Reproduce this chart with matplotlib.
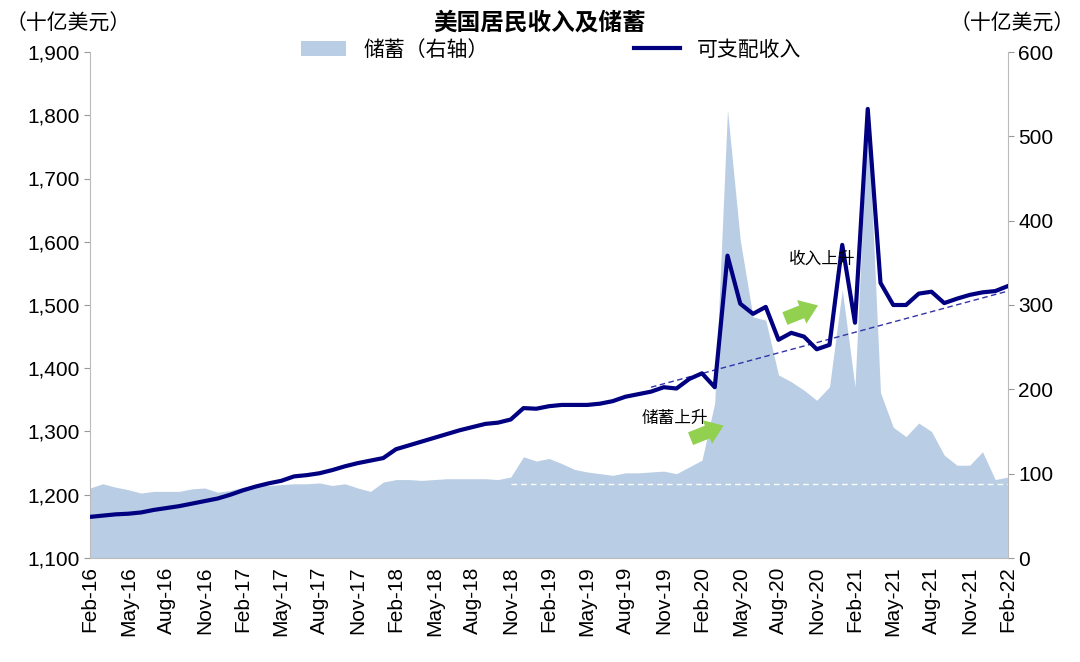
import numpy as np
import matplotlib.pyplot as plt

plt.rcParams['font.family'] = ['Liberation Sans', 'Noto Sans CJK SC', 'DejaVu Sans']

# monthly, Feb-16 .. Feb-22
months = ['Jan', 'Feb', 'Mar', 'Apr', 'May', 'Jun', 'Jul', 'Aug', 'Sep', 'Oct', 'Nov', 'Dec']
labels = [f'{months[(1 + i) % 12]}-{16 + (1 + i) // 12}' for i in range(73)]

income = [1165, 1167, 1169, 1170, 1172, 1176, 1179, 1182, 1186, 1190, 1194,
          1200, 1207, 1213, 1218, 1222, 1229, 1231, 1234, 1239, 1245, 1250, 1254,
          1258, 1272, 1278, 1284, 1290, 1296, 1302, 1307, 1312, 1314, 1319, 1337,
          1336, 1340, 1342, 1342, 1342, 1344, 1348, 1355, 1359, 1363, 1370, 1368,
          1383, 1392, 1370, 1578, 1502, 1486, 1497, 1445, 1456, 1450, 1430, 1437,
          1595, 1472, 1810, 1535, 1500, 1500, 1518, 1521, 1503, 1510, 1516, 1520,
          1522, 1530]

savings = [83, 88, 84, 81, 77, 79, 79, 79, 82, 83, 78,
           80, 84, 86, 86, 87, 88, 88, 89, 86, 88, 83, 79,
           90, 93, 93, 92, 93, 94, 94, 94, 94, 93, 96, 120,
           115, 118, 112, 105, 102, 100, 98, 101, 101, 102, 103, 100,
           108, 116, 184, 531, 377, 286, 282, 217, 209, 199, 187, 203,
           318, 203, 531, 196, 155, 144, 160, 150, 122, 110, 110, 126,
           93, 96]

savings_ref = 88          # white dashed reference level
trend_x = [44, 72]        # index range for income trend line
trend_y = [1370, 1522]

x = np.arange(len(labels))

fig = plt.figure(figsize=(10.8, 6.62), dpi=100)
ax = fig.add_axes([90 / 1080, 1 - 558 / 662, 918 / 1080, 506 / 662])
ax2 = ax.twinx()

# savings area on the right axis (draw behind the income line)
ax.set_zorder(2)
ax.patch.set_visible(False)
ax2.fill_between(x, savings, 0, color='#b9cde4', lw=0, label='储蓄（右轴）')
ax2.plot([33, 72], [savings_ref, savings_ref], color='white', ls=(0, (4, 3)), lw=1)
ax2.set_ylim(0, 600)
ax2.set_yticks(range(0, 601, 100))

ax.plot(x, income, color='#000080', lw=3, label='可支配收入', zorder=3)
ax.plot(trend_x, trend_y, color='#3333aa', ls=(0, (4, 2.5)), lw=1, zorder=2)
ax.set_ylim(1100, 1900)
ax.set_yticks(range(1100, 1901, 100))
ax.set_yticklabels([f'{v:,}' for v in range(1100, 1901, 100)])
ax.set_xlim(0, 72)
ax.set_xticks(x[::3])
ax.set_xticklabels(labels[::3], rotation=90)

for a in (ax, ax2):
    a.tick_params(labelsize=15, length=4, color='#999999')
    for s in a.spines.values():
        s.set_visible(False)
ax.spines['left'].set_visible(True)
ax.spines['left'].set_color('#bbbbbb')
ax.spines['bottom'].set_visible(True)
ax.spines['bottom'].set_color('#bbbbbb')
ax2.spines['right'].set_visible(True)
ax2.spines['right'].set_color('#bbbbbb')
ax.tick_params(axis='x', length=0, pad=6)

# annotations
ax.text(54.8, 1565, '收入上升', fontsize=12, style='italic')
ax.text(43.3, 1313, '储蓄上升', fontsize=12, style='italic')
for (x0, y0, dx, dy) in [(54.3, 1477, 3.0, 24), (46.9, 1287, 3.0, 24)]:
    ax.annotate('', xy=(x0 + dx, y0 + dy), xytext=(x0, y0),
                arrowprops=dict(arrowstyle='simple,head_width=1.3,head_length=0.9,tail_width=0.7',
                                mutation_scale=14, color='#92d050', lw=0), zorder=5)

fig.text(0.5, 0.965, '美国居民收入及储蓄', ha='center', va='center', fontsize=17, fontweight='bold')
fig.text(0.005, 0.965, '（十亿美元）', ha='left', va='center', fontsize=15)
fig.text(0.995, 0.965, '（十亿美元）', ha='right', va='center', fontsize=15)

h1, l1 = ax2.get_legend_handles_labels()
h2, l2 = ax.get_legend_handles_labels()
fig.legend(h1 + h2, l1 + l2, loc='center', bbox_to_anchor=(0.51, 0.925), ncol=2,
           frameon=False, fontsize=15, columnspacing=7, handlelength=2.2)

fig.savefig('out.png', dpi=100)
